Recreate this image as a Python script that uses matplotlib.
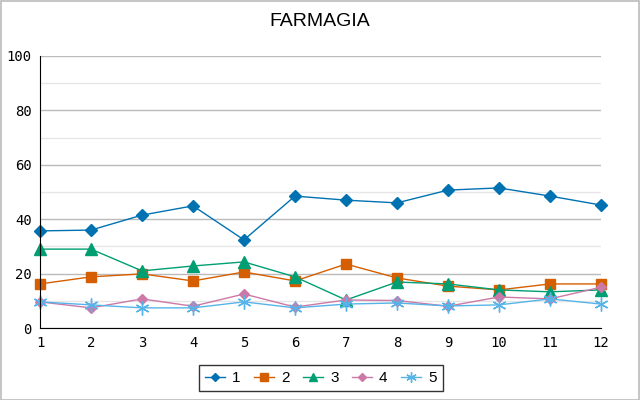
import matplotlib
matplotlib.use("Agg")
import matplotlib.pyplot as plt
from matplotlib.patches import Rectangle

x = list(range(1, 13))
s1 = [35.7, 36.0, 41.5, 44.9, 32.4, 48.5, 47.0, 46.0, 50.7, 51.5, 48.5, 45.2]
s2 = [16.2, 18.8, 19.9, 17.3, 20.6, 17.3, 23.5, 18.4, 15.4, 14.0, 16.2, 16.2]
s3 = [29.0, 29.0, 21.0, 22.8, 24.3, 18.8, 10.3, 16.9, 16.2, 14.0, 13.3, 14.0]
s4 = [9.6, 7.4, 10.7, 8.0, 12.5, 7.7, 10.3, 10.1, 8.0, 11.4, 10.7, 15.0]
s5 = [9.6, 8.5, 7.4, 7.4, 9.6, 7.4, 8.8, 9.2, 8.1, 8.5, 10.7, 8.8]
labels = ["1", "2", "3", "4", "5"]
title = "FARMAGIA"

series = [s1, s2, s3, s4, s5]
colors = ["#0072B2", "#D55E00", "#009E73", "#CC79A7", "#56B4E9"]
markers = ["D", "s", "^", "D", "*"]
msizes = [6, 7, 8, 5, 10]

fig = plt.figure(figsize=(6.4, 4.0), dpi=100)
fig.patches.append(Rectangle((0.001, 0.001), 0.997, 0.997, transform=fig.transFigure,
                             fill=False, edgecolor="#bbbbbb", linewidth=1.2))
ax = fig.add_axes([40/640, 1-328/400, 561/640, 272/400])

for s, c, m, ms, lab in zip(series, colors, markers, msizes, labels):
    if m == "*":
        ax.plot(x, s, color=c, lw=1, marker=(6, 2, 0), ms=ms, mew=1, mec=c, label=lab)
    else:
        ax.plot(x, s, color=c, lw=1, marker=m, ms=ms, mec=c, mfc=c, label=lab)

ax.set_xlim(1, 12)
ax.set_ylim(0, 100)
ax.set_xticks(x)
ax.set_yticks(range(0, 101, 20))
ax.set_yticks(range(10, 100, 20), minor=True)
ax.grid(axis="y", which="major", color="#bbbbbb", lw=1)
ax.grid(axis="y", which="minor", color="#e6e6e6", lw=1)
ax.set_axisbelow(True)
for sp in ["top", "right"]:
    ax.spines[sp].set_visible(False)
ax.spines["left"].set_color("black")
ax.spines["bottom"].set_color("black")
ax.tick_params(axis="both", which="both", length=0, labelsize=10)
ax.tick_params(axis="y", pad=6)
ax.tick_params(axis="x", pad=6)
for t in ax.get_xticklabels() + ax.get_yticklabels():
    t.set_fontfamily("DejaVu Sans Mono")
for ln in ax.lines:
    ln.set_clip_on(False)

fig.text(0.5, 1-22/400, title, ha="center", va="center", fontsize=14, family="Liberation Sans")

leg = ax.legend(loc="center", bbox_to_anchor=(321/640, 1-378/400), bbox_transform=fig.transFigure,
                ncol=5, frameon=True, fancybox=False, edgecolor="black",
                prop={"family": "Liberation Sans", "size": 11}, markerscale=0.75,
                handlelength=1.3, columnspacing=0.9, handletextpad=0.45, borderpad=0.4,
                borderaxespad=0)
leg.get_frame().set_linewidth(1)

fig.savefig("out.png", dpi=100)
